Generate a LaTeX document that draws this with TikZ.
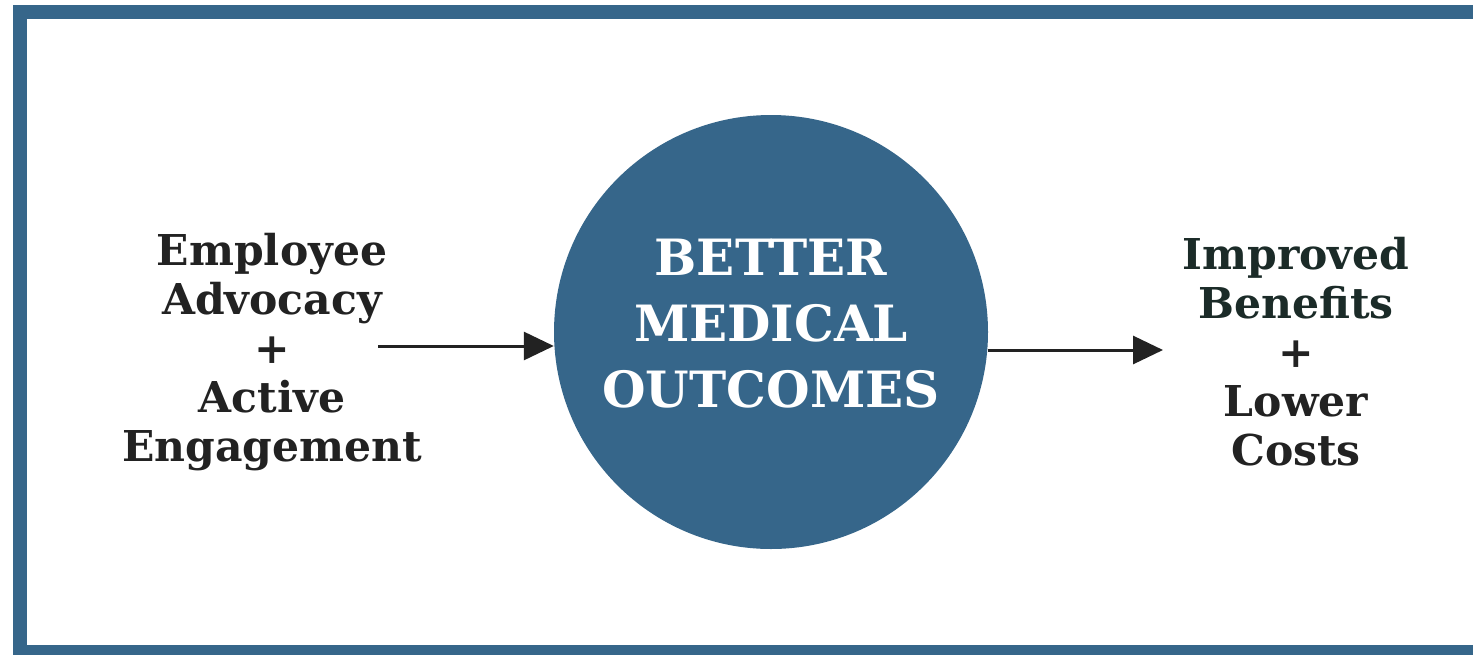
\documentclass[tikz,border=0pt]{standalone}
\usepackage{fontspec}
\setmainfont{DejaVu Serif}
\usetikzlibrary{arrows.meta}
\definecolor{bluec}{HTML}{36668A}
\definecolor{darkt}{HTML}{222222}
\definecolor{greent}{HTML}{1B2B28}
\tikzset{
  sidetext/.style={align=center, text=darkt, font=\bfseries\fontsize{42.5}{49}\selectfont},
  circtext/.style={align=center, text=white, font=\bfseries\fontsize{50}{66}\selectfont},
  arr/.style={line width=3pt, draw=darkt, -{Triangle[length=30pt,width=28pt]}},
}
\begin{document}
\begin{tikzpicture}[x=1pt,y=-1pt]
\useasboundingbox (0,0) rectangle (1473,654);
\fill[white] (0,0) rectangle (1473,654);
\begin{scope}
\clip (0,0) rectangle (1473,654);
\draw[line width=14pt, bluec] (20,12) rectangle (1500,652);
\end{scope}
\node[circle, fill=bluec, minimum size=434pt, inner sep=0pt] (circ) at (771,332) {};
\node[circtext] (ctext) at (771,324) {BETTER\\MEDICAL\\OUTCOMES};
\node[sidetext] (left) at (272,352) {Employee\\Advocacy\\+\\Active\\Engagement};
\node[sidetext] (right) at (1296,352) {\textcolor{greent}{Improved}\\\textcolor{greent}{Benefits}\\+\\Lower\\Costs};
\coordinate (a1) at (378,346);
\coordinate (b1) at (1163,350);
\draw[arr] (a1) -- (a1 -| circ.west);
\draw[arr] (b1 -| circ.east) -- (b1);
\end{tikzpicture}
\end{document}
